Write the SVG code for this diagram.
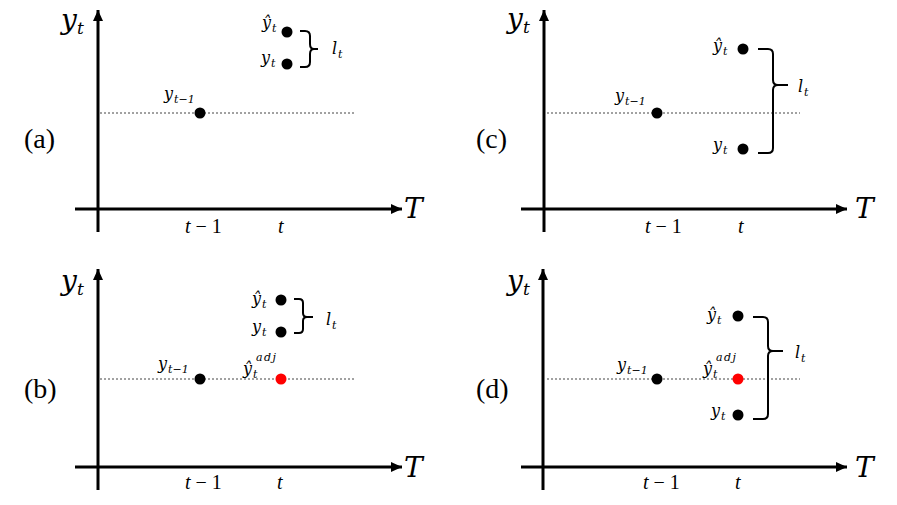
<svg xmlns="http://www.w3.org/2000/svg" width="897" height="505" viewBox="0 0 897 505">
<defs>
<marker id="arr" markerUnits="userSpaceOnUse" markerWidth="12" markerHeight="10" refX="11" refY="5" orient="auto">
<path d="M0,0 L11,5 L0,10 z" fill="#000"/>
</marker>
<style>
.ax{stroke:#000;stroke-width:3;fill:none;marker-end:url(#arr)}
.dl{stroke:#444;stroke-width:1;stroke-dasharray:2,2;fill:none}
.br{stroke:#000;stroke-width:2;fill:none}
.dot{fill:#000}
.red{fill:#ff0000}
text{font-family:"Liberation Serif","Times New Roman",serif;fill:#000}
.m{font-family:"DejaVu Serif","Liberation Serif",serif;font-style:italic}
.big{font-size:28px}
.bigT{font-size:28px}
.lab{font-size:28px}
.sm{font-size:16px}
.sub{font-size:11px}
.sub2{font-size:17px}
.tk{font-size:20px}
.tki{font-style:italic}
</style>
</defs>
<rect width="897" height="505" fill="#fff"/>

<!-- Panel (a) -->
<g id="panel-a">
<g id="axes-a">
<line class="ax" x1="98" y1="232" x2="98" y2="10"/>
<line class="ax" x1="75" y1="209" x2="402" y2="209"/>
<line class="dl" x1="100" y1="113" x2="355" y2="113"/>
<path class="br" d="M300,31 H305 Q310,31 310,36 V44 Q310,49 314,49 H318 M314,49 Q310,49 310,54 V62 Q310,67 305,67 H300"/>
</g>
<text class="m big" x="61" y="29">y</text><text class="m sub2" x="77" y="34">t</text>
<text class="lab" x="24" y="148">(a)</text>
<text class="m bigT" x="404" y="218">T</text>
<text class="tk" x="185" y="233"><tspan class="tki">t</tspan> − 1</text>
<text class="tk tki" x="278" y="233">t</text>
<g id="a-prev"><circle class="dot" cx="200" cy="113" r="5.5"/><text class="m sm" x="164" y="99">y</text><text class="m sub" x="174" y="103">t−1</text></g>
<g id="a-yhat"><circle class="dot" cx="287" cy="32" r="5.5"/><text class="m sm" x="262" y="28">ŷ</text><text class="m sub" x="272" y="32">t</text></g>
<g id="a-y"><circle class="dot" cx="287" cy="64" r="5.5"/><text class="m sm" x="261" y="63">y</text><text class="m sub" x="271" y="67">t</text></g>
<g id="a-l"><text class="m sm" x="332" y="54">l</text><text class="m sub" x="338" y="58">t</text></g>
</g>

<!-- Panel (c) -->
<g id="panel-c">
<g id="axes-c">
<line class="ax" x1="544" y1="232" x2="544" y2="10"/>
<line class="ax" x1="521" y1="209" x2="847" y2="209"/>
<line class="dl" x1="547" y1="113" x2="800" y2="113"/>
<path class="br" d="M758,49 H768 Q773,49 773,54 V80 Q773,85 778,85 H788 M778,85 Q773,85 773,90 V148 Q773,153 768,153 H758"/>
</g>
<text class="m big" x="507" y="28">y</text><text class="m sub2" x="523" y="33">t</text>
<text class="lab" x="476" y="148">(c)</text>
<text class="m bigT" x="855" y="218">T</text>
<text class="tk" x="645" y="233"><tspan class="tki">t</tspan> − 1</text>
<text class="tk tki" x="738" y="233">t</text>
<g id="c-prev"><circle class="dot" cx="657" cy="113" r="5.5"/><text class="m sm" x="615" y="101">y</text><text class="m sub" x="625" y="105">t−1</text></g>
<g id="c-yhat"><circle class="dot" cx="743" cy="49" r="5.5"/><text class="m sm" x="713" y="51">ŷ</text><text class="m sub" x="723" y="55">t</text></g>
<g id="c-y"><circle class="dot" cx="743" cy="149" r="5.5"/><text class="m sm" x="713" y="150">y</text><text class="m sub" x="723" y="154">t</text></g>
<g id="c-l"><text class="m sm" x="798" y="92">l</text><text class="m sub" x="804" y="96">t</text></g>
</g>

<!-- Panel (b) -->
<g id="panel-b">
<g id="axes-b">
<line class="ax" x1="98" y1="490" x2="98" y2="269"/>
<line class="ax" x1="75" y1="467" x2="402" y2="467"/>
<line class="dl" x1="100" y1="379" x2="355" y2="379"/>
<path class="br" d="M294,299 H299 Q303,299 303,303 V313 Q303,317 307,317 H313 M307,317 Q303,317 303,321 V329 Q303,333 299,333 H294"/>
</g>
<text class="m big" x="61" y="290">y</text><text class="m sub2" x="77" y="295">t</text>
<text class="lab" x="24" y="398">(b)</text>
<text class="m bigT" x="404" y="477">T</text>
<text class="tk" x="185" y="489"><tspan class="tki">t</tspan> − 1</text>
<text class="tk tki" x="277" y="489">t</text>
<g id="b-prev"><circle class="dot" cx="200" cy="379" r="5.5"/><text class="m sm" x="158" y="369">y</text><text class="m sub" x="168" y="373">t−1</text></g>
<g id="b-yhat"><circle class="dot" cx="281" cy="300" r="5.5"/><text class="m sm" x="252" y="304">ŷ</text><text class="m sub" x="262" y="308">t</text></g>
<g id="b-y"><circle class="dot" cx="281" cy="332" r="5.5"/><text class="m sm" x="252" y="332">y</text><text class="m sub" x="262" y="336">t</text></g>
<g id="b-l"><text class="m sm" x="326" y="325">l</text><text class="m sub" x="332" y="329">t</text></g>
<g id="b-adj"><circle class="red" cx="281" cy="379" r="5.5"/><text class="m sm" x="243" y="374">ŷ</text><text class="m sub" x="253" y="378">t</text><text class="m sub" x="256" y="361" letter-spacing="1.5">adj</text></g>
</g>

<!-- Panel (d) -->
<g id="panel-d">
<g id="axes-d">
<line class="ax" x1="543" y1="490" x2="543" y2="269"/>
<line class="ax" x1="521" y1="467" x2="847" y2="467"/>
<line class="dl" x1="547" y1="379" x2="800" y2="379"/>
<path class="br" d="M753,317 H763 Q768,317 768,322 V346 Q768,351 773,351 H783 M773,351 Q768,351 768,356 V414 Q768,419 763,419 H753"/>
</g>
<text class="m big" x="507" y="290">y</text><text class="m sub2" x="523" y="295">t</text>
<text class="lab" x="476" y="398">(d)</text>
<text class="m bigT" x="855" y="477">T</text>
<text class="tk" x="643" y="489"><tspan class="tki">t</tspan> − 1</text>
<text class="tk tki" x="735" y="489">t</text>
<g id="d-prev"><circle class="dot" cx="657" cy="379" r="5.5"/><text class="m sm" x="617" y="370">y</text><text class="m sub" x="627" y="374">t−1</text></g>
<g id="d-yhat"><circle class="dot" cx="738" cy="316" r="5.5"/><text class="m sm" x="707" y="320">ŷ</text><text class="m sub" x="717" y="324">t</text></g>
<g id="d-y"><circle class="dot" cx="738" cy="415" r="5.5"/><text class="m sm" x="711" y="416">y</text><text class="m sub" x="721" y="420">t</text></g>
<g id="d-l"><text class="m sm" x="795" y="358">l</text><text class="m sub" x="801" y="362">t</text></g>
<g id="d-adj"><circle class="red" cx="738" cy="379" r="5.5"/><text class="m sm" x="703" y="374">ŷ</text><text class="m sub" x="713" y="378">t</text><text class="m sub" x="716" y="361" letter-spacing="1.5">adj</text></g>
</g>
</svg>
